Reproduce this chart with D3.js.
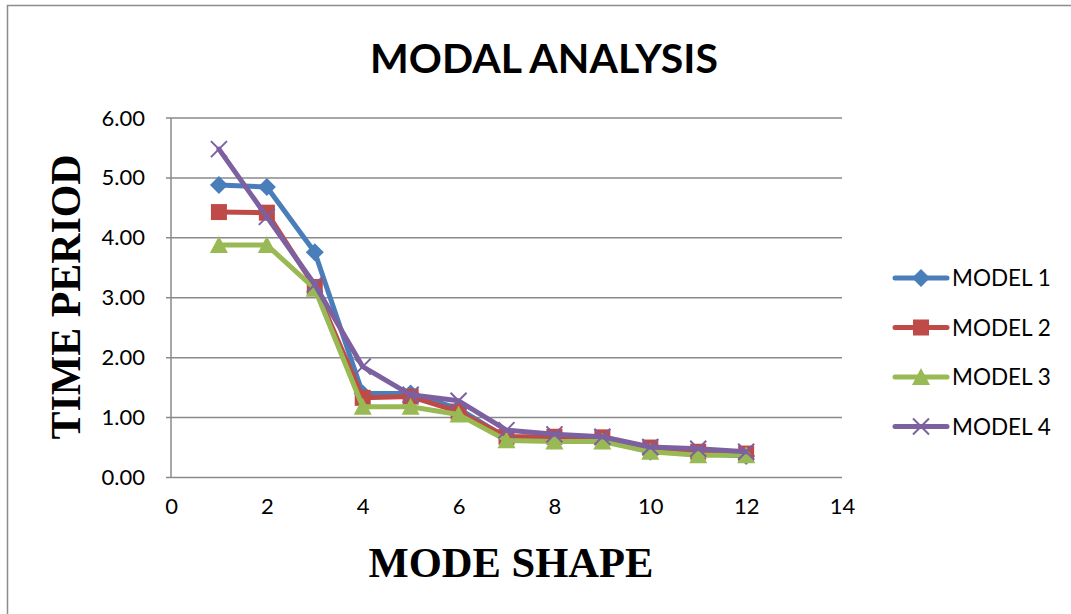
<!DOCTYPE html>
<html>
<head>
<meta charset="utf-8">
<script src="https://cdn.jsdelivr.net/npm/d3@7"></script>
<style>
  body { margin: 0; background: #fff; }
  svg { display: block; }
</style>
</head>
<body>
<svg id="canvas" width="1071" height="614"></svg>
<script>
// mode numbers and time periods
let modes = [1, 2, 3, 4, 5, 6, 7, 8, 9, 10, 11, 12]
let model1 = [4.88, 4.85, 3.76, 1.40, 1.40, 1.15, 0.66, 0.65, 0.62, 0.43, 0.40, 0.36]
let model2 = [4.43, 4.42, 3.18, 1.33, 1.35, 1.10, 0.68, 0.68, 0.67, 0.50, 0.43, 0.40]
let model3 = [3.88, 3.88, 3.15, 1.18, 1.18, 1.05, 0.62, 0.60, 0.60, 0.43, 0.37, 0.37]
let model4 = [5.48, 4.35, 3.22, 1.85, 1.38, 1.28, 0.79, 0.72, 0.68, 0.51, 0.48, 0.43]
let seriesNames = ['MODEL 1', 'MODEL 2', 'MODEL 3', 'MODEL 4']
let xTicks = [0, 2, 4, 6, 8, 10, 12, 14]
let yTicks = [0, 1, 2, 3, 4, 5, 6]

let colors = ['#4a7ebb', '#be4b48', '#98b954', '#7d60a0']
let shapes = ['diamond', 'square', 'triangle', 'cross']

let series = [model1, model2, model3, model4].map((vals, i) => ({
  name: seriesNames[i],
  color: colors[i],
  shape: shapes[i],
  points: modes.map((m, j) => ({ x: m, y: vals[j] }))
}))

let canvas = d3.select('#canvas')
let sansFont = 'Lato, "Open Sans", sans-serif'
let serifFont = '"Liberation Serif", "DejaVu Serif", serif'

// outer chart frame (runs off the right and bottom edges)
canvas.append('rect')
  .attr('x', 7.5).attr('y', 5.5)
  .attr('width', 1100).attr('height', 700)
  .attr('fill', 'none')
  .attr('stroke', '#8c8c8c')
  .attr('stroke-width', 1.5)

let x = d3.scaleLinear().domain([0, 14]).range([171, 842])
let y = d3.scaleLinear().domain([0, 6]).range([477.5, 118])

// gridlines
canvas.append('g')
  .selectAll('line')
  .data(yTicks)
  .enter()
  .append('line')
  .attr('x1', 166).attr('x2', 842)
  .attr('y1', d => y(d)).attr('y2', d => y(d))
  .attr('stroke', '#8a8a8a')
  .attr('stroke-width', 1.5)

// y axis line
canvas.append('line')
  .attr('x1', 171).attr('x2', 171)
  .attr('y1', y(6)).attr('y2', y(0))
  .attr('stroke', '#8a8a8a')
  .attr('stroke-width', 1.5)

// tick labels via d3 axes, domain/tick lines removed
let yAxis = canvas.append('g')
  .attr('transform', 'translate(171,0)')
  .call(d3.axisLeft(y).tickValues(yTicks).tickSize(0).tickPadding(26)
    .tickFormat(d3.format('.2f')))
yAxis.select('.domain').remove()
yAxis.selectAll('text')
  .attr('font-family', sansFont)
  .attr('font-size', 22)
  .attr('fill', '#000')

let xAxis = canvas.append('g')
  .attr('transform', 'translate(0,' + y(0) + ')')
  .call(d3.axisBottom(x).tickValues(xTicks).tickSize(0).tickPadding(21))
xAxis.select('.domain').remove()
xAxis.selectAll('text')
  .attr('font-family', sansFont)
  .attr('font-size', 22)
  .attr('fill', '#000')

// marker drawing
let markerSize = 8
let drawMarker = (g, shape, color, cx, cy) => {
  let s = markerSize
  if (shape === 'diamond') {
    g.append('path')
      .attr('d', `M${cx},${cy - s - 1}L${cx + s + 1},${cy}L${cx},${cy + s + 1}L${cx - s - 1},${cy}Z`)
      .attr('fill', color)
  } else if (shape === 'square') {
    g.append('rect')
      .attr('x', cx - s).attr('y', cy - s)
      .attr('width', 2 * s).attr('height', 2 * s)
      .attr('fill', color)
  } else if (shape === 'triangle') {
    g.append('path')
      .attr('d', `M${cx},${cy - s - 1}L${cx + s + 1},${cy + s}L${cx - s - 1},${cy + s}Z`)
      .attr('fill', color)
  } else {
    g.append('path')
      .attr('d', `M${cx - s},${cy - s}L${cx + s},${cy + s}M${cx - s},${cy + s}L${cx + s},${cy - s}`)
      .attr('stroke', color)
      .attr('stroke-width', 2)
  }
}

let line = d3.line().x(d => x(d.x)).y(d => y(d.y))

series.forEach(s => {
  let g = canvas.append('g').attr('class', 'series')
  g.append('path')
    .datum(s.points)
    .attr('d', line)
    .attr('fill', 'none')
    .attr('stroke', s.color)
    .attr('stroke-width', 5)
    .attr('stroke-linejoin', 'round')
    .attr('stroke-linecap', 'round')
  s.points.forEach(p => drawMarker(g, s.shape, s.color, x(p.x), y(p.y)))
})

// legend
let legend = canvas.append('g').attr('id', 'legend')
series.forEach((s, i) => {
  let ly = 278 + i * 49.5
  let g = legend.append('g')
  g.append('line')
    .attr('x1', 895).attr('x2', 947)
    .attr('y1', ly).attr('y2', ly)
    .attr('stroke', s.color)
    .attr('stroke-width', 5)
    .attr('stroke-linecap', 'round')
  drawMarker(g, s.shape, s.color, 921, ly)
  g.append('text')
    .attr('x', 952).attr('y', ly + 8)
    .attr('font-family', sansFont)
    .attr('font-size', 22.5)
    .attr('fill', '#000')
    .text(s.name)
})

// titles
canvas.append('text')
  .attr('x', 544).attr('y', 73)
  .attr('text-anchor', 'middle')
  .attr('font-family', sansFont)
  .attr('font-weight', 'bold')
  .attr('font-size', 41)
  .attr('fill', '#000')
  .text('MODAL ANALYSIS')

canvas.append('text')
  .attr('x', 511).attr('y', 577)
  .attr('text-anchor', 'middle')
  .attr('font-family', serifFont)
  .attr('font-weight', 'bold')
  .attr('font-size', 42)
  .attr('textLength', 285)
  .attr('lengthAdjust', 'spacingAndGlyphs')
  .attr('fill', '#000')
  .text('MODE SHAPE')

canvas.append('text')
  .attr('transform', 'translate(80,297) rotate(-90)')
  .attr('text-anchor', 'middle')
  .attr('font-family', serifFont)
  .attr('font-weight', 'bold')
  .attr('font-size', 42)
  .attr('textLength', 285)
  .attr('lengthAdjust', 'spacingAndGlyphs')
  .attr('fill', '#000')
  .text('TIME PERIOD')
</script>
</body>
</html>
